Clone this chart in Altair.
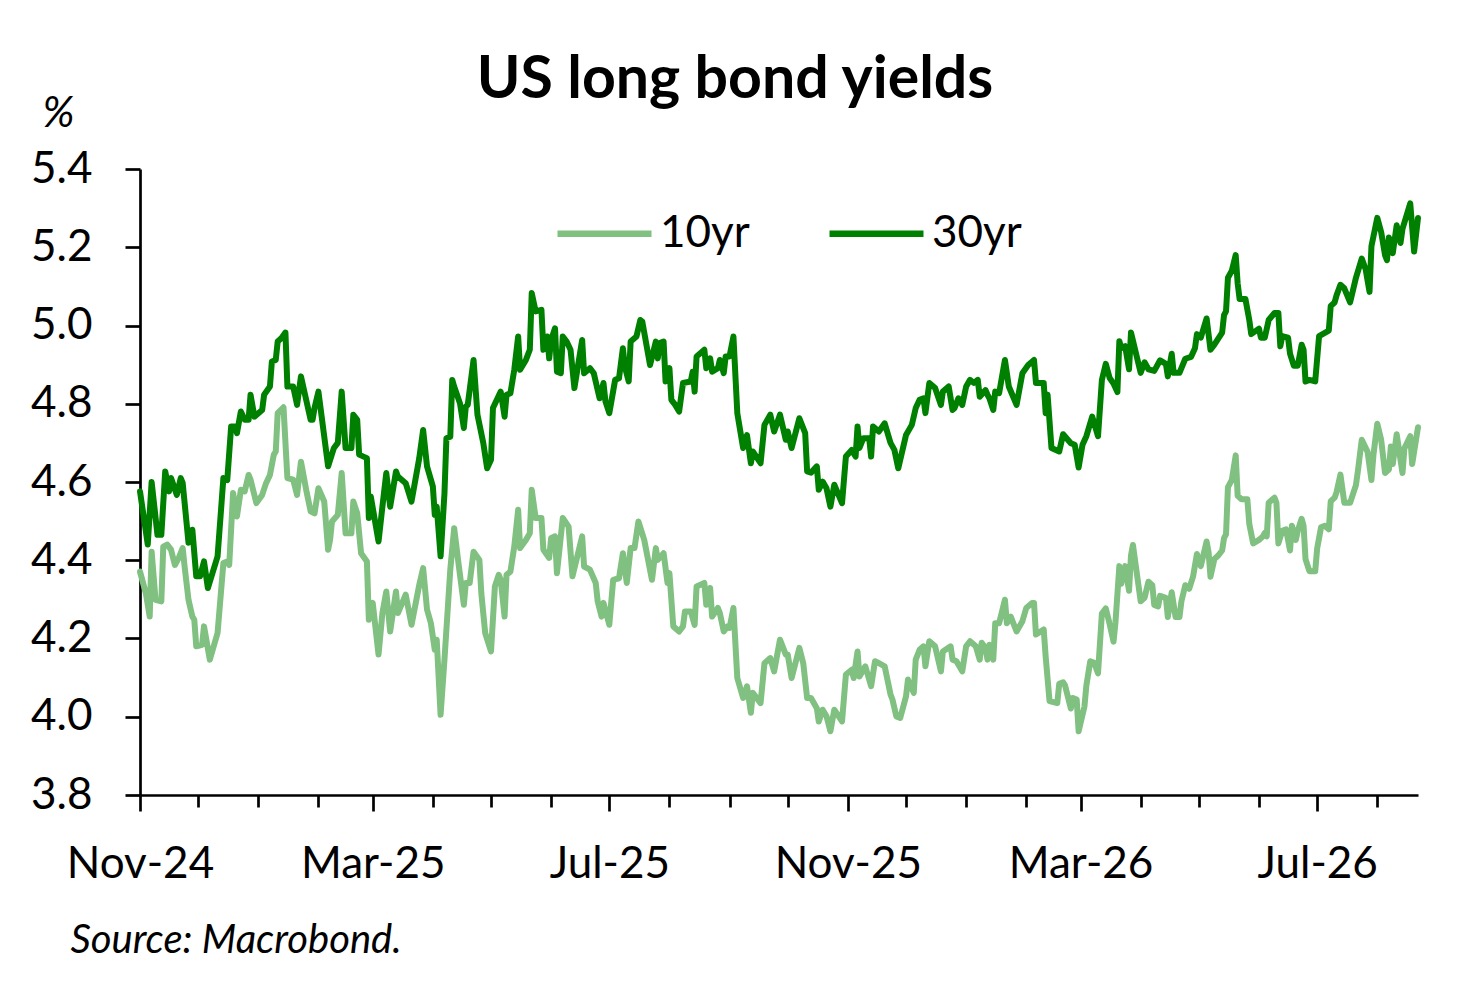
import altair as alt
import pandas as pd

START = pd.Timestamp(2024, 11, 1)

# day offsets from 1 Nov 2024
days_10 = [0,3,5,6,8,11,12,14,16,18,20,22,23,25,27,28,29,32,33,36,
40,43,45,46,48,50,52,54,56,57,60,63,65,67,69,70,71,74,76,79,
81,83,86,88,90,92,95,97,98,99,102,104,106,109,110,112,114,117,118,120,
123,125,127,129,132,133,137,140,144,
146,148,150,152,153,155,157,160,162,164,167,168,170,172,175,176,178,181,183,185,
186,188,189,191,193,195,196,199,201,202,204,207,208,211,212,214,215,218,221,223,
228,229,232,235,236,238,239,242,244,247,249,251,253,255,257,260,264,266,267,270,
272,273,275,278,280,281,284,286,287,291,292,294,295,298,
299,301,303,304,306,308,311,313,315,316,320,322,325,327,330,333,334,336,340,342,
344,346,349,350,352,354,356,358,362,364,367,368,370,371,374,377,379,381,384,387,
388,390,392,395,396,399,400,402,404,405,407,410,413,414,418,419,421,424,426,428,
431,433,434,436,437,438,440,441,443,446,447,449,452,455,457,460,461,462,466,467,
469,473,
474,476,477,480,481,483,484,487,488,490,492,494,496,498,500,502,503,505,506,508,
510,511,512,514,516,518,520,522,523,525,526,529,530,532,534,536,537,539,541,543,
545,547,550,551,552,554,556,558,559,560,561,563,565,566,568,571,572,574,577,579,
580,581,582,585,586,587,589,591,593,594,596,597,599,600,601,603,606,607,609,611,
613,614,616,617,619,621,624,627,628,630,633,635,636,638,640,642,644,645,646,648,
651,652,655,656,659]

yield_10 = [4.371,4.316,4.256,4.422,4.299,4.295,4.435,4.44,4.427,4.388,
4.406,4.431,4.384,4.299,4.256,4.248,4.18,4.184,4.231,4.146,
4.214,4.393,4.397,4.388,4.572,4.512,4.58,4.576,4.618,4.606,
4.546,4.567,4.597,4.618,4.67,4.678,4.776,4.791,4.61,4.606,
4.567,4.652,4.572,4.525,4.52,4.584,4.55,4.427,4.452,4.499,
4.516,4.623,4.469,4.469,4.55,4.52,4.418,4.397,4.248,4.291,
4.159,4.265,4.32,4.218,4.32,4.265,4.312,4.235,4.337,
4.38,4.274,4.239,4.171,4.197,4.005,4.146,4.376,4.482,4.401,
4.286,4.342,4.342,4.422,4.401,4.316,4.214,4.167,4.333,4.363,
4.35,4.256,4.363,4.371,4.435,4.529,4.431,4.452,4.469,4.58,
4.508,4.508,4.427,4.406,4.457,4.461,4.367,4.508,4.486,4.359,
4.461,4.384,4.376,4.342,4.295,4.256,4.291,4.235,4.35,4.354,
4.418,4.342,4.431,4.431,4.499,4.452,4.35,4.431,4.401,4.418,
4.342,4.367,4.231,4.218,4.231,4.269,4.269,4.235,4.333,4.342,
4.286,4.329,4.256,4.278,
4.265,4.218,4.231,4.227,4.278,4.099,4.048,4.078,4.01,4.061,
4.035,4.137,4.15,4.116,4.197,4.159,4.159,4.099,4.176,4.137,
4.048,4.048,4.022,3.988,4.018,4.001,3.963,4.018,3.988,4.108,
4.12,4.099,4.167,4.103,4.129,4.078,4.142,4.137,4.129,4.057,
4.044,4.001,3.997,4.052,4.095,4.061,4.146,4.171,4.18,4.129,
4.193,4.18,4.116,4.167,4.18,4.146,4.142,4.116,4.18,4.193,
4.18,4.146,4.189,4.176,4.146,4.184,4.146,4.239,4.239,4.299,
4.239,4.256,4.218,4.244,4.278,4.291,4.291,4.21,4.223,4.154,
4.04,4.035,
4.084,4.088,4.080,4.021,4.048,4.044,3.963,4.026,4.080,4.142,
4.138,4.111,4.264,4.277,4.237,4.192,4.241,4.385,4.340,4.385,
4.322,4.412,4.439,4.367,4.295,4.304,4.345,4.336,4.286,4.282,
4.309,4.304,4.255,4.318,4.255,4.255,4.295,4.336,4.327,4.358,
4.416,4.385,4.448,4.421,4.358,4.403,4.412,4.425,4.457,4.466,
4.587,4.605,4.668,4.565,4.556,4.556,4.493,4.443,4.452,4.461,
4.470,4.461,4.547,4.560,4.547,4.443,4.475,4.479,4.425,4.488,
4.452,4.475,4.506,4.488,4.403,4.372,4.372,4.430,4.484,4.488,
4.479,4.551,4.560,4.574,4.619,4.547,4.547,4.592,4.628,4.708,
4.677,4.605,4.668,4.749,4.708,4.623,4.632,4.691,4.646,4.722,
4.623,4.686,4.717,4.646,4.740]

days_30 = [0,4,6,9,11,13,15,16,19,21,22,25,27,29,31,33,35,40,43,45,
47,49,50,52,54,56,57,59,63,64,67,68,70,71,73,75,76,79,81,83,
88,89,90,92,97,100,102,104,106,109,110,112,113,117,118,119,123,125,127,129,
132,133,137,140,144,
146,148,151,152,153,155,157,158,160,161,162,165,167,168,169,172,174,177,179,181,
182,186,188,189,191,193,195,196,199,201,202,204,207,208,210,211,212,214,215,217,
218,220,222,224,228,229,232,234,236,237,239,240,242,245,247,249,250,252,253,256,
258,259,263,266,267,268,270,271,273,274,276,278,280,284,285,286,287,291,292,294,
295,298,
299,301,302,304,306,308,311,313,315,316,320,322,325,327,330,333,334,336,340,343,
344,346,349,350,352,354,356,358,362,364,367,369,370,371,373,376,377,378,381,384,
387,389,391,395,398,400,402,404,405,407,410,413,414,417,419,420,422,424,426,428,
430,432,433,436,437,438,440,441,443,446,448,452,455,458,461,462,466,467,468,470,
474,
476,480,482,484,486,488,491,494,496,498,500,502,504,505,506,508,510,511,516,518,
520,523,526,529,530,532,533,536,539,542,544,545,547,550,552,554,558,559,560,561,
563,565,566,567,570,572,573,577,578,580,582,585,587,588,589,592,593,595,597,599,
600,601,603,606,608,613,614,616,617,619,621,624,627,630,632,634,635,638,640,642,
643,644,646,648,650,651,655,657,659]

yield_30 = [4.576,4.44,4.60,4.465,4.465,4.627,4.576,4.61,4.567,4.61,
4.598,4.445,4.478,4.359,4.359,4.397,4.329,4.41,4.61,4.605,
4.742,4.742,4.725,4.78,4.759,4.759,4.823,4.767,4.784,4.823,
4.844,4.908,4.912,4.959,4.968,4.982,4.844,4.844,4.797,4.87,
4.759,4.759,4.789,4.831,4.64,4.687,4.70,4.831,4.687,4.687,
4.772,4.759,4.67,4.661,4.508,4.563,4.448,4.537,4.623,4.537,
4.627,4.614,4.597,4.55,4.661,
4.733,4.64,4.589,4.516,4.537,4.41,4.571,4.712,4.716,4.861,
4.844,4.801,4.738,4.793,4.797,4.912,4.772,4.70,4.635,4.657,
4.789,4.831,4.767,4.823,4.827,4.887,4.972,4.887,4.912,4.938,
5.083,5.036,5.04,4.938,4.972,4.916,4.963,4.993,4.882,4.878,
4.972,4.959,4.938,4.84,4.963,4.878,4.891,4.878,4.835,4.814,
4.853,4.806,4.776,4.861,4.865,4.942,4.895,4.857,4.959,4.972,
5.014,5.01,4.899,4.959,4.916,4.955,4.959,4.857,4.891,4.81,
4.797,4.78,4.853,4.857,4.882,4.831,4.921,4.938,4.891,4.916,
4.882,4.891,
4.912,4.878,4.921,4.921,4.972,4.776,4.687,4.72,4.648,4.678,
4.648,4.746,4.772,4.729,4.772,4.708,4.729,4.687,4.763,4.725,
4.627,4.624,4.64,4.58,4.601,4.584,4.537,4.593,4.546,4.665,
4.682,4.665,4.742,4.687,4.712,4.712,4.665,4.742,4.729,4.75,
4.70,4.682,4.635,4.72,4.746,4.789,4.81,4.814,4.776,4.853,
4.84,4.797,4.831,4.844,4.784,4.789,4.814,4.797,4.844,4.861,
4.853,4.861,4.818,4.835,4.823,4.814,4.784,4.831,4.827,4.912,
4.844,4.797,4.878,4.899,4.912,4.853,4.853,4.776,4.823,4.687,
4.678,
4.722,4.699,4.695,4.637,4.695,4.717,4.767,4.717,4.861,4.902,
4.866,4.852,4.830,4.960,4.942,4.947,4.888,4.982,4.879,4.906,
4.888,4.884,4.911,4.902,4.870,4.928,4.879,4.879,4.915,4.920,
4.942,4.978,4.969,5.018,4.938,4.951,4.982,5.027,5.036,5.122,
5.140,5.180,5.108,5.068,5.068,5.014,4.978,4.992,4.969,4.969,
5.014,5.032,5.032,4.947,4.973,4.969,4.928,4.897,4.897,4.951,
4.938,4.857,4.861,4.857,4.973,4.987,5.050,5.059,5.077,5.104,
5.095,5.059,5.122,5.171,5.144,5.086,5.203,5.275,5.239,5.180,
5.167,5.225,5.185,5.256,5.211,5.247,5.312,5.189,5.275]

series_names = ["10yr", "30yr"]
series_colors = ["#80C080", "#008000"]
y_ticks = [3.8, 4.0, 4.2, 4.4, 4.6, 4.8, 5.0, 5.2, 5.4]

assert len(days_10) == len(yield_10), (len(days_10), len(yield_10))
assert len(days_30) == len(yield_30), (len(days_30), len(yield_30))

df = pd.concat([
    pd.DataFrame({"date": START + pd.to_timedelta(days_10, unit="D"),
                  "yield": yield_10, "series": "10yr"}),
    pd.DataFrame({"date": START + pd.to_timedelta(days_30, unit="D"),
                  "yield": yield_30, "series": "30yr"}),
], ignore_index=True)
df["date"] = df["date"].dt.strftime("%Y-%m-%dT00:00:00")

month_ticks = []
y, m = 2024, 11
while (y, m) <= (2026, 8):
    month_ticks.append(alt.DateTime(year=y, month=m, date=1))
    m += 1
    if m > 12:
        m, y = 1, y + 1

FONT = "Lato"
major = "month(datum.value) % 4 == 2"

chart = alt.Chart(df).mark_line(strokeWidth=6, strokeJoin="round", strokeCap="round").encode(
    x=alt.X("date:T",
            scale=alt.Scale(domain=[alt.DateTime(year=2024, month=11, date=1),
                                    alt.DateTime(year=2026, month=8, date=22)]),
            axis=alt.Axis(values=month_ticks,
                          labelExpr=f"({major}) ? timeFormat(datum.value, '%b-%y') : ''",
                          tickSize={"condition": {"test": major, "value": 16}, "value": 12},
                          labelPadding=31, labelFontSize=44, labelFont=FONT,
                          labelColor="black", labelOverlap=False, labelFlush=False,
                          domainColor="black", domainWidth=2.7,
                          tickColor="black", tickWidth=2.7, grid=False,
                          title="Source: Macrobond.", titleFont=FONT, titleFontSize=40,
                          titleFontStyle="italic", titleFontWeight="normal",
                          titleColor="black", titleAlign="left", titleAnchor="start",
                          titleBaseline="alphabetic", titleX=-70, titleY=157)),
    y=alt.Y("yield:Q",
            scale=alt.Scale(domain=[3.8, 5.4], nice=False, zero=False),
            axis=alt.Axis(values=y_ticks, format=".1f", tickSize=15,
                          labelPadding=33, labelFontSize=44, labelFont=FONT,
                          labelColor="black", domainColor="black", domainWidth=2.7,
                          tickColor="black", tickWidth=2.7, grid=False,
                          title="%", titleFont=FONT, titleFontSize=43,
                          titleFontStyle="italic", titleFontWeight="normal",
                          titleColor="black", titleAngle=0, titleAlign="left",
                          titleBaseline="alphabetic", titleX=-98, titleY=-43)),
    color=alt.Color("series:N",
                    scale=alt.Scale(domain=series_names, range=series_colors),
                    legend=alt.Legend(title=None, orient="none", direction="horizontal",
                                      legendX=414, legendY=14,
                                      symbolType="stroke", symbolSize=8836,
                                      symbolStrokeWidth=6.5, labelFontSize=44,
                                      labelFont=FONT, labelColor="black",
                                      labelOffset=5, columnPadding=66)),
).properties(
    width=1278,
    height=626,
    title=alt.TitleParams("US long bond yields", font=FONT, fontSize=59,
                          fontWeight="bold", color="black", anchor="middle",
                          frame="group", dx=-44, offset=0, dy=18),
    autosize=alt.AutoSizeParams(type="none"),
    padding={"left": 132, "top": 161, "right": 43, "bottom": 179},
).configure(
    background="white",
    view=alt.ViewConfig(stroke="transparent"),
)

chart.save("out.html", embed_options={"renderer": "svg", "actions": False})
